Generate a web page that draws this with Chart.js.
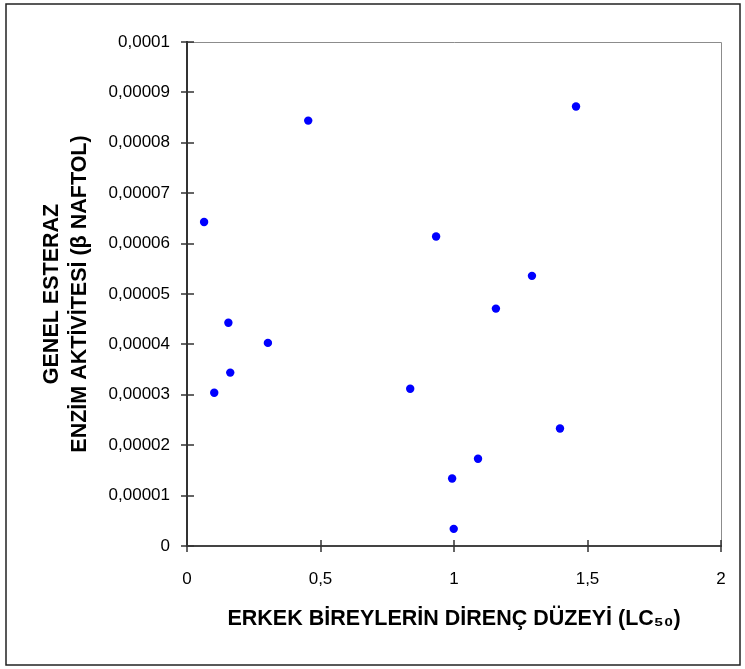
<!DOCTYPE html>
<html>
<head>
<meta charset="utf-8">
<script src="https://cdn.jsdelivr.net/npm/chart.js@4/dist/chart.umd.min.js"></script>
<style>
  body { margin: 0; background: #fff; }
  #wrap { width: 745px; height: 669px; }
</style>
</head>
<body>
<div id="wrap"><canvas id="scatterChart" width="745" height="669"></canvas></div>
<script>
// Veriler
const xValues = [0.064, 0.454, 0.933, 1.457, 1.292, 1.157, 0.836, 1.397, 1.090, 0.993, 0.999, 0.155, 0.303, 0.162, 0.102];
const yValues = [0.0000643, 0.0000844, 0.0000614, 0.0000872, 0.0000536, 0.0000471, 0.0000312, 0.0000233, 0.0000173, 0.0000134, 0.0000034, 0.0000443, 0.0000403, 0.0000344, 0.0000304];

const xTickLabels = ['0', '0,5', '1', '1,5', '2'];
const yTickLabels = ['0', '0,00001', '0,00002', '0,00003', '0,00004', '0,00005', '0,00006', '0,00007', '0,00008', '0,00009', '0,0001'];

const xTitle = 'ERKEK BİREYLERİN DİRENÇ DÜZEYİ (LC₅₀)';
const yTitle = ['GENEL ESTERAZ', 'ENZİM AKTİVİTESİ (β NAFTOL)'];

const points = xValues.map((x, i) => ({ x: x, y: yValues[i] }));

// Çerçeve + üst/sağ çizgiler + çapraz tik işaretleri
const framePlugin = {
    id: 'frame',
    beforeDraw(chart) {
        const ctx = chart.ctx;
        const a = chart.chartArea;
        ctx.save();
        ctx.fillStyle = '#fff';
        ctx.fillRect(0, 0, chart.width, chart.height);
        ctx.strokeStyle = '#222';
        ctx.lineWidth = 1.5;
        ctx.strokeRect(6, 4, 734, 661);
        ctx.strokeStyle = '#8c8c8c';
        ctx.lineWidth = 1;
        ctx.beginPath();
        ctx.moveTo(a.left, a.top + 0.5);
        ctx.lineTo(a.right + 0.5, a.top + 0.5);
        ctx.lineTo(a.right + 0.5, a.bottom);
        ctx.stroke();
        ctx.restore();
    },
    afterDraw(chart) {
        const ctx = chart.ctx;
        const xs = chart.scales.x, ys = chart.scales.y;
        const a = chart.chartArea;
        ctx.save();
        ctx.strokeStyle = '#333';
        ctx.lineWidth = 1.5;
        ctx.beginPath();
        ys.ticks.forEach(t => {
            const py = Math.round(ys.getPixelForValue(t.value));
            ctx.moveTo(a.left - 6, py);
            ctx.lineTo(a.left + 7, py);
        });
        xs.ticks.forEach(t => {
            const px = Math.round(xs.getPixelForValue(t.value));
            ctx.moveTo(px, a.bottom - 6);
            ctx.lineTo(px, a.bottom + 6);
        });
        ctx.stroke();
        ctx.restore();
    }
};

new Chart(document.getElementById('scatterChart').getContext('2d'), {
    type: 'scatter',
    data: {
        datasets: [{
            data: points,
            backgroundColor: '#0000ff',
            borderColor: '#0000ff',
            borderWidth: 0,
            pointRadius: 4.2
        }]
    },
    options: {
        responsive: false,
        animation: false,
        layout: { padding: { top: 42, right: 24, left: 0, bottom: 0 } },
        plugins: { legend: { display: false }, tooltip: { enabled: false } },
        scales: {
            x: {
                type: 'linear',
                min: 0, max: 2,
                afterFit: s => { s.height = 123; s.paddingLeft = 0; s.paddingRight = 0; },
                grid: { display: false, drawTicks: false },
                border: { display: true, color: '#444', width: 2 },
                ticks: {
                    stepSize: 0.5,
                    padding: 23,
                    color: '#000',
                    font: { family: "'Liberation Sans', Arial, sans-serif", size: 17 },
                    callback: (v, i) => xTickLabels[i]
                },
                title: {
                    display: true,
                    text: xTitle,
                    color: '#000',
                    font: { family: "'Liberation Sans', Arial, sans-serif", size: 21.5, weight: 'bold' },
                    padding: { bottom: 37 }
                }
            },
            y: {
                type: 'linear',
                min: 0, max: 0.0001,
                afterFit: s => { s.width = 187; },
                grid: { display: false, drawTicks: false },
                border: { display: true, color: '#333', width: 2 },
                ticks: {
                    stepSize: 0.00001,
                    padding: 17,
                    color: '#000',
                    font: { family: "'Liberation Sans', Arial, sans-serif", size: 17 },
                    callback: (v, i) => yTickLabels[i]
                },
                title: {
                    display: true,
                    text: yTitle,
                    color: '#000',
                    font: { family: "'Liberation Sans', Arial, sans-serif", size: 21.5, weight: 'bold', lineHeight: '28px' },
                    padding: { top: 38 }
                }
            }
        }
    },
    plugins: [framePlugin]
});
</script>
</body>
</html>
